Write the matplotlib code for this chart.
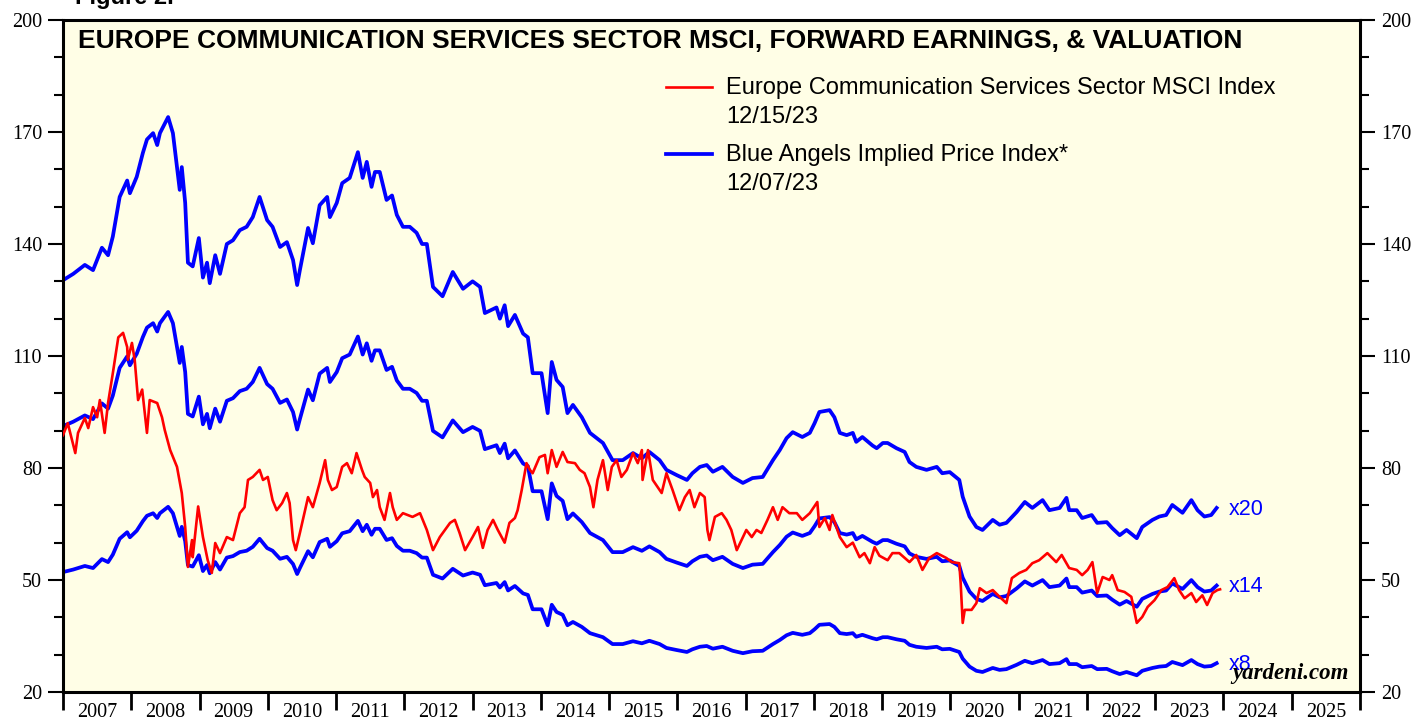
import numpy as np
import matplotlib
matplotlib.use('Agg')
from matplotlib import pyplot as plt

### Data (decimal years)
# Blue Angels implied price at 20x forward earnings (top blue line)
pe20_dates = [2007.00, 2007.15, 2007.32, 2007.44, 2007.57, 2007.66, 2007.73, 2007.83, 2007.94, 2007.98,
              2008.08, 2008.17, 2008.23, 2008.32, 2008.38, 2008.42, 2008.54, 2008.61, 2008.67, 2008.71,
              2008.74, 2008.79, 2008.83, 2008.90, 2008.99, 2009.05, 2009.11, 2009.15, 2009.23, 2009.30,
              2009.40, 2009.49, 2009.59, 2009.69, 2009.78, 2009.88, 2009.99, 2010.07, 2010.18, 2010.28,
              2010.37, 2010.43, 2010.47, 2010.59, 2010.66, 2010.76, 2010.87, 2010.91, 2011.01, 2011.09,
              2011.20, 2011.32, 2011.39, 2011.45, 2011.52, 2011.57, 2011.64, 2011.74, 2011.82, 2011.89,
              2011.98, 2012.08, 2012.18, 2012.26, 2012.33, 2012.42, 2012.56, 2012.71, 2012.86, 2013.00,
              2013.11, 2013.18, 2013.35, 2013.40, 2013.47, 2013.52, 2013.62, 2013.74, 2013.81, 2013.88,
              2014.01, 2014.10, 2014.16, 2014.23, 2014.32, 2014.39, 2014.47, 2014.60, 2014.72, 2014.91,
              2015.05, 2015.20, 2015.35, 2015.48, 2015.59, 2015.74, 2015.84, 2015.99, 2016.14, 2016.22,
              2016.33, 2016.43, 2016.52, 2016.66, 2016.81, 2016.96, 2017.10, 2017.25, 2017.40, 2017.50,
              2017.60, 2017.69, 2017.83, 2017.94, 2018.01, 2018.08, 2018.23, 2018.30, 2018.38, 2018.48,
              2018.57, 2018.62, 2018.71, 2018.86, 2018.92, 2019.01, 2019.08, 2019.21, 2019.33, 2019.40,
              2019.50, 2019.65, 2019.80, 2019.88, 2019.99, 2020.13, 2020.18, 2020.28, 2020.38, 2020.47,
              2020.62, 2020.72, 2020.82, 2020.97, 2021.09, 2021.20, 2021.35, 2021.45, 2021.60, 2021.70,
              2021.74, 2021.85, 2021.93, 2022.07, 2022.15, 2022.29, 2022.37, 2022.48, 2022.58, 2022.73,
              2022.81, 2022.96, 2023.06, 2023.16, 2023.25, 2023.40, 2023.53, 2023.62, 2023.72, 2023.82,
              2023.90]
pe20_values = [130.3, 132.0, 134.4, 133.0, 139.0, 137.0, 142.0, 152.6, 157.0, 153.6,
               158.0, 164.4, 168.0, 169.7, 166.5, 169.7, 174.0, 169.7, 160.6, 154.5,
               160.6, 151.0, 135.0, 134.0, 141.6, 131.0, 135.0, 129.5, 137.0, 132.0,
               140.0, 141.0, 143.7, 144.6, 147.2, 152.6, 146.4, 144.6, 139.2, 140.5,
               135.7, 129.0, 133.0, 144.3, 140.2, 150.4, 152.6, 147.2, 151.0, 156.3,
               157.7, 164.6, 157.7, 162.0, 155.3, 159.3, 159.3, 151.8, 153.0, 147.8,
               144.6, 144.6, 143.0, 140.0, 140.0, 128.5, 126.0, 132.5, 128.0, 130.0,
               128.5, 121.5, 123.0, 120.0, 123.6, 118.0, 121.0, 116.0, 115.0, 105.4,
               105.4, 94.7, 108.4, 103.6, 101.7, 94.7, 96.9, 93.6, 89.4, 86.7,
               82.1, 82.1, 84.0, 82.6, 84.3, 82.1, 79.5, 78.1, 76.8, 78.6,
               80.3, 80.8, 79.0, 80.3, 77.6, 76.0, 77.3, 77.6, 82.1, 84.8,
               88.0, 89.6, 88.3, 89.4, 92.0, 95.0, 95.5, 93.6, 89.4, 88.8,
               89.4, 87.0, 88.3, 86.0, 85.3, 86.7, 86.7, 85.3, 84.3, 81.6,
               80.3, 79.5, 80.3, 78.6, 78.9, 76.8, 72.3, 67.0, 64.2, 63.4,
               66.1, 64.8, 65.3, 68.2, 70.9, 69.3, 71.4, 68.7, 69.3, 72.0,
               68.7, 68.7, 66.6, 67.4, 65.3, 65.5, 63.9, 62.0, 63.4, 61.2,
               64.2, 66.1, 67.0, 67.4, 70.1, 68.0, 71.4, 68.7, 67.0, 67.4,
               69.3]

# Europe Communication Services Sector MSCI Index (red line)
index_dates = [2007.00, 2007.07, 2007.18, 2007.22, 2007.32, 2007.37, 2007.44, 2007.50, 2007.54, 2007.61,
               2007.66, 2007.73, 2007.81, 2007.88, 2007.94, 2007.95, 2008.01, 2008.05, 2008.10, 2008.16,
               2008.23, 2008.27, 2008.38, 2008.45, 2008.49, 2008.57, 2008.67, 2008.74, 2008.79, 2008.83,
               2008.89, 2008.90, 2008.98, 2009.05, 2009.12, 2009.18, 2009.23, 2009.30, 2009.40, 2009.49,
               2009.59, 2009.66, 2009.71, 2009.78, 2009.88, 2009.93, 2010.00, 2010.07, 2010.13, 2010.21,
               2010.28, 2010.32, 2010.37, 2010.41, 2010.47, 2010.59, 2010.66, 2010.76, 2010.84, 2010.88,
               2010.94, 2011.01, 2011.09, 2011.16, 2011.23, 2011.30, 2011.38, 2011.42, 2011.50, 2011.54,
               2011.60, 2011.64, 2011.71, 2011.79, 2011.83, 2011.89, 2011.98, 2012.12, 2012.23, 2012.33,
               2012.42, 2012.52, 2012.67, 2012.74, 2012.81, 2012.89, 2013.00, 2013.08, 2013.15, 2013.22,
               2013.30, 2013.37, 2013.47, 2013.54, 2013.62, 2013.66, 2013.72, 2013.79, 2013.84, 2013.88,
               2013.98, 2014.06, 2014.10, 2014.16, 2014.23, 2014.32, 2014.39, 2014.50, 2014.57, 2014.64,
               2014.72, 2014.77, 2014.83, 2014.91, 2014.98, 2015.04, 2015.11, 2015.18, 2015.26, 2015.35,
               2015.42, 2015.48, 2015.49, 2015.57, 2015.64, 2015.71, 2015.77, 2015.84, 2015.93, 2016.03,
               2016.11, 2016.18, 2016.25, 2016.33, 2016.40, 2016.44, 2016.47, 2016.55, 2016.65, 2016.72,
               2016.79, 2016.87, 2016.94, 2017.01, 2017.09, 2017.16, 2017.23, 2017.32, 2017.40, 2017.47,
               2017.54, 2017.64, 2017.75, 2017.83, 2017.94, 2018.05, 2018.08, 2018.16, 2018.23, 2018.27,
               2018.38, 2018.48, 2018.57, 2018.67, 2018.74, 2018.82, 2018.89, 2018.96, 2019.08, 2019.15,
               2019.25, 2019.40, 2019.50, 2019.59, 2019.69, 2019.80, 2019.94, 2020.02, 2020.13, 2020.15,
               2020.18, 2020.21, 2020.31, 2020.38, 2020.43, 2020.53, 2020.62, 2020.72, 2020.82, 2020.90,
               2021.01, 2021.11, 2021.20, 2021.30, 2021.42, 2021.55, 2021.63, 2021.74, 2021.85, 2021.93,
               2022.01, 2022.08, 2022.15, 2022.23, 2022.33, 2022.37, 2022.45, 2022.55, 2022.65, 2022.73,
               2022.81, 2022.89, 2022.99, 2023.09, 2023.18, 2023.28, 2023.35, 2023.43, 2023.53, 2023.60,
               2023.69, 2023.76, 2023.84, 2023.91, 2023.95]
index_values = [88.8, 92.0, 84.0, 89.4, 93.4, 90.7, 96.3, 93.6, 98.2, 89.4,
                97.4, 105.4, 115.0, 116.2, 112.4, 109.0, 113.5, 109.0, 98.2, 101.0,
                89.4, 98.2, 97.4, 93.6, 90.2, 84.8, 80.3, 73.3, 64.2, 53.5,
                60.7, 56.1, 69.7, 61.5, 55.3, 51.9, 59.9, 57.2, 61.5, 60.7,
                67.9, 69.5, 76.8, 77.6, 79.5, 76.8, 77.6, 71.4, 68.7, 70.6,
                73.3, 70.6, 60.7, 58.0, 62.6, 72.2, 69.5, 76.0, 82.1, 76.8,
                74.1, 74.9, 80.3, 81.3, 78.6, 84.0, 79.5, 77.6, 76.0, 72.2,
                74.1, 69.5, 66.1, 73.3, 69.5, 66.1, 67.9, 66.9, 67.9, 63.4,
                58.0, 61.5, 65.3, 66.1, 62.6, 58.0, 61.5, 64.2, 58.6, 63.4,
                66.1, 63.4, 60.0, 65.3, 66.6, 68.7, 74.1, 81.3, 79.5, 78.6,
                82.9, 83.5, 78.6, 84.8, 80.3, 84.3, 81.6, 81.3, 79.5, 78.6,
                74.9, 69.5, 76.8, 82.1, 74.1, 80.3, 82.1, 77.6, 79.5, 84.0,
                81.3, 84.8, 76.8, 84.8, 76.8, 74.9, 73.3, 78.6, 74.1, 68.7,
                72.2, 74.1, 69.5, 73.3, 72.2, 63.4, 60.7, 66.9, 67.9, 66.1,
                63.4, 58.0, 60.7, 63.4, 61.5, 63.4, 62.6, 66.1, 69.5, 66.1,
                69.5, 67.9, 67.9, 66.1, 67.9, 70.9, 64.2, 66.6, 63.4, 67.4,
                61.5, 58.8, 60.0, 56.1, 57.2, 54.5, 58.8, 56.5, 55.3, 57.2,
                57.2, 54.8, 56.7, 52.7, 55.9, 57.2, 55.9, 54.8, 54.5, 49.2,
                38.5, 42.0, 42.0, 43.8, 47.8, 46.5, 47.3, 45.5, 43.8, 50.5,
                51.9, 52.7, 54.5, 55.3, 57.2, 54.8, 56.7, 53.2, 52.7, 51.3,
                52.7, 54.8, 46.5, 50.8, 50.0, 51.3, 47.3, 46.8, 45.5, 38.5,
                40.1, 42.8, 44.6, 47.3, 48.1, 50.5, 47.3, 45.1, 46.5, 44.1,
                45.9, 43.3, 46.5, 47.3, 47.5]

multiples = [20, 14, 8]
multiple_labels = ['x20', 'x14', 'x8']
years = list(range(2007, 2026))

fwd_eps = np.array(pe20_values) / 20.0

### Figure
bg_color = '#FFFEE6'
fig = plt.figure(figsize=(14.18, 7.19), dpi=100)
ax = fig.add_axes([63 / 1418, 27 / 719, 1297 / 1418, 672 / 719])
ax.set_facecolor(bg_color)

# blue implied price lines
for m, lab in zip(multiples, multiple_labels):
    vals = fwd_eps * m
    ax.plot(pe20_dates, vals, color='#0000FF', lw=2.7, solid_joinstyle='round', zorder=2)
    ax.annotate(lab, xy=(pe20_dates[-1], vals[-1]), xytext=(9, -1), textcoords='offset points',
                va='center', ha='left', color='#0000FF', fontsize=15.5, family='Liberation Sans')

# red index line
ax.plot(index_dates, index_values, color='#FF0000', lw=1.9, zorder=3)

# axes limits and ticks
ax.set_xlim(2007, 2026)
ax.set_ylim(20, 200)

ax.set_yticks(np.arange(20, 201, 30))
ax.set_yticks(np.arange(20, 201, 10), minor=True)
ax.tick_params(axis='y', which='major', direction='out', length=11, width=1.5,
               left=True, right=True, labelleft=True, labelright=True, labelsize=14.5, pad=4)
ax.tick_params(axis='y', which='minor', direction='out', length=6.5, width=1.5,
               left=True, right=True)

ax.set_xticks(np.arange(2007, 2027))
ax.set_xticklabels([])
ax.set_xticks([y + 0.5 for y in years], minor=True)
ax.set_xticklabels([str(y) for y in years], minor=True)
ax.tick_params(axis='x', which='major', direction='out', length=13, width=2, top=False)
ax.tick_params(axis='x', which='minor', length=0, labelsize=14.5, pad=8, top=False)

for lbl in ax.get_yticklabels() + ax.get_xticklabels(minor=True):
    lbl.set_family('Liberation Serif')

for sp in ax.spines.values():
    sp.set_linewidth(2.2)

# title inside plot
ax.text(0.0116, 0.958, 'EUROPE COMMUNICATION SERVICES SECTOR MSCI, FORWARD EARNINGS, & VALUATION',
        transform=ax.transAxes, ha='left', va='baseline', fontsize=19, fontweight='bold',
        family='Liberation Sans')

# legend (drawn by hand so the key sits on the first line)
key_x = [0.465, 0.500]
ax.plot(key_x, [0.900, 0.900], transform=ax.transAxes, color='#FF0000', lw=1.9)
ax.plot(key_x, [0.800, 0.800], transform=ax.transAxes, color='#0000FF', lw=2.7)
legend_lines = [('Europe Communication Services Sector MSCI Index', 0.899),
                ('12/15/23', 0.856),
                ('Blue Angels Implied Price Index*', 0.799),
                ('12/07/23', 0.756)]
for txt, yy in legend_lines:
    ax.text(0.511, yy, txt, transform=ax.transAxes, ha='left', va='center', fontsize=17,
            family='Liberation Sans')

# source
ax.text(0.991, 0.020, 'yardeni.com', transform=ax.transAxes, ha='right', va='baseline',
        fontsize=16.5, fontweight='bold', fontstyle='italic', family='Liberation Serif')

fig.text(75 / 1418, 1 - 4 / 719, 'Figure 2.', ha='left', va='baseline', fontsize=17,
         fontweight='bold', family='Liberation Sans')

plt.savefig('out.png', dpi=100, facecolor='white')
